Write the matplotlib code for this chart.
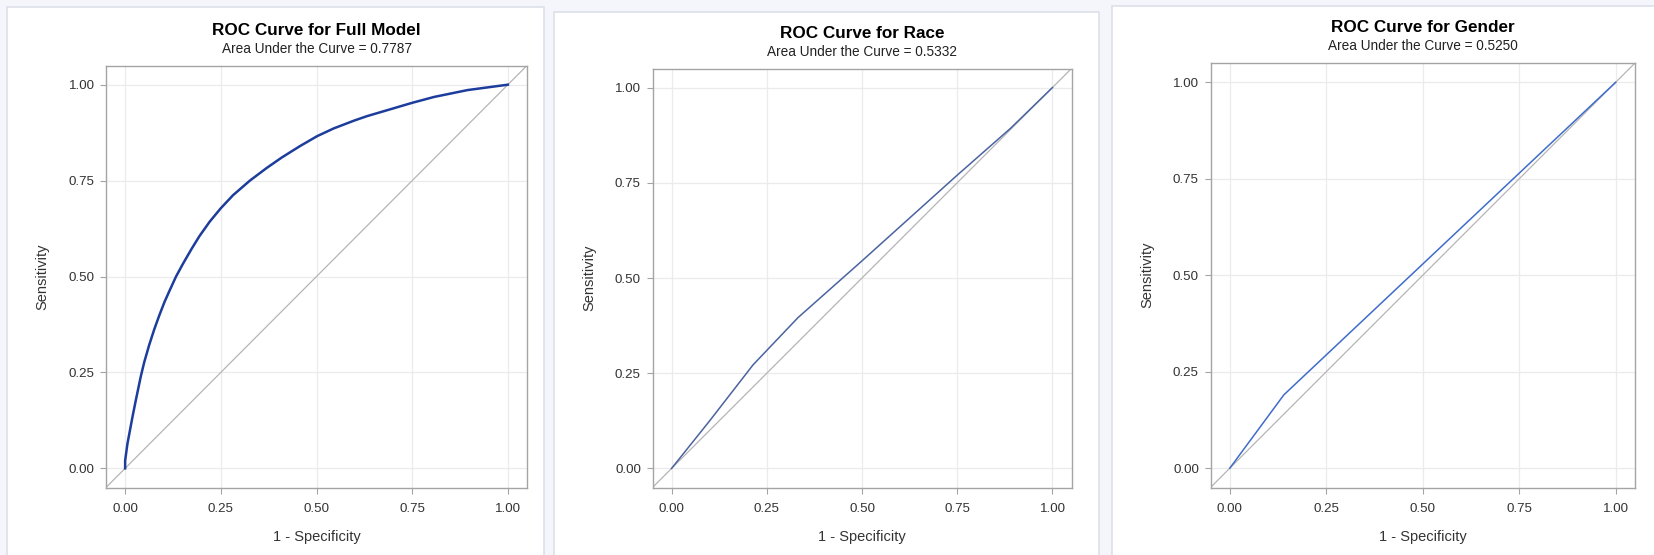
import matplotlib.pyplot as plt
from matplotlib.patches import Rectangle

# ROC data
full_fpr = [0.0, 0.0, 0.006, 0.019, 0.028, 0.041, 0.050, 0.063, 0.076, 0.089, 0.103,
            0.116, 0.133, 0.151, 0.173, 0.194, 0.221, 0.25, 0.282, 0.326, 0.37,
            0.409, 0.457, 0.502, 0.545, 0.6, 0.632, 0.7, 0.751, 0.807, 0.895, 1.0]
full_tpr = [0.0, 0.02, 0.064, 0.133, 0.178, 0.240, 0.277, 0.322, 0.362, 0.398, 0.434,
            0.463, 0.500, 0.533, 0.571, 0.605, 0.643, 0.678, 0.712, 0.750, 0.783,
            0.810, 0.840, 0.866, 0.886, 0.907, 0.918, 0.938, 0.953, 0.968, 0.986, 1.0]

race_fpr = [0.0, 0.1, 0.214, 0.332, 0.5, 0.75, 0.89, 1.0]
race_tpr = [0.0, 0.125, 0.272, 0.396, 0.545, 0.770, 0.893, 1.0]

gender_fpr = [0.0, 0.14, 1.0]
gender_tpr = [0.0, 0.19, 1.0]

titles = ["ROC Curve for Full Model", "ROC Curve for Race", "ROC Curve for Gender"]
auc_values = ["0.7787", "0.5332", "0.5250"]
ticks = [0.0, 0.25, 0.5, 0.75, 1.0]
tick_labels = ["0.00", "0.25", "0.50", "0.75", "1.00"]

curves = [(full_fpr, full_tpr, "#1c3d9c", 1.8),
          (race_fpr, race_tpr, "#4a63a0", 1.1),
          (gender_fpr, gender_tpr, "#3f6ccb", 1.1)]

plt.rcParams['font.family'] = ['Liberation Sans', 'DejaVu Sans']

W, H = 1654, 555
fig = plt.figure(figsize=(W / 100, H / 100), dpi=100, facecolor="#f4f6fb")

# panel frames (pixel boxes: left, top, right)
panels = [(7, 7, 544), (554, 12, 1099), (1112, 6, 1660)]
for l, t, r in panels:
    fig.patches.append(Rectangle((l / W, -0.02), (r - l) / W, (H - t) / H + 0.02,
                                 transform=fig.transFigure, facecolor="white",
                                 edgecolor="#dde0e8", linewidth=1.2, zorder=-10))

# axes boxes in pixels: left, right, top, bottom
boxes = [(106, 527, 65.5, 487.5), (652.5, 1071.5, 68.5, 487.5), (1210.5, 1635, 63, 487.5)]

for i, (l, r, t, b) in enumerate(boxes):
    ax = fig.add_axes([l / W, (H - b) / H, (r - l) / W, (b - t) / H])
    ax.set_xlim(-0.05, 1.05)
    ax.set_ylim(-0.05, 1.05)
    ax.set_xticks(ticks)
    ax.set_yticks(ticks)
    ax.set_xticklabels(tick_labels)
    ax.set_yticklabels(tick_labels)
    ax.grid(True, color="#ebebeb", linewidth=0.9)
    ax.set_axisbelow(True)
    for s in ax.spines.values():
        s.set_color("#a4a4a4")
        s.set_linewidth(1.0)
    ax.tick_params(direction="out", length=4.3, width=0.8, color="#a4a4a4",
                   labelsize=9.6, labelcolor="#333333", pad=4)
    ax.tick_params(axis="x", pad=6.5)

    ax.plot([-0.05, 1.05], [-0.05, 1.05], color="#b5b5b5", linewidth=0.9)
    x, y, c, lw = curves[i]
    ax.plot(x, y, color=c, linewidth=lw)

    ax.set_xlabel("1 - Specificity", fontsize=10.5, color="#333333", labelpad=11)
    ax.set_ylabel("Sensitivity", fontsize=10.5, color="#333333", labelpad=13.5)

    ax.annotate(titles[i], xy=(0.5, 1.0), xycoords="axes fraction",
                xytext=(0, 25.3), textcoords="offset points",
                ha="center", va="center", fontsize=12.3, fontweight="bold")
    ax.annotate("Area Under the Curve = " + auc_values[i], xy=(0.5, 1.0),
                xycoords="axes fraction", xytext=(0, 12), textcoords="offset points",
                ha="center", va="center", fontsize=9.8, color="#222222")

fig.savefig("out.png", dpi=100, facecolor=fig.get_facecolor())
